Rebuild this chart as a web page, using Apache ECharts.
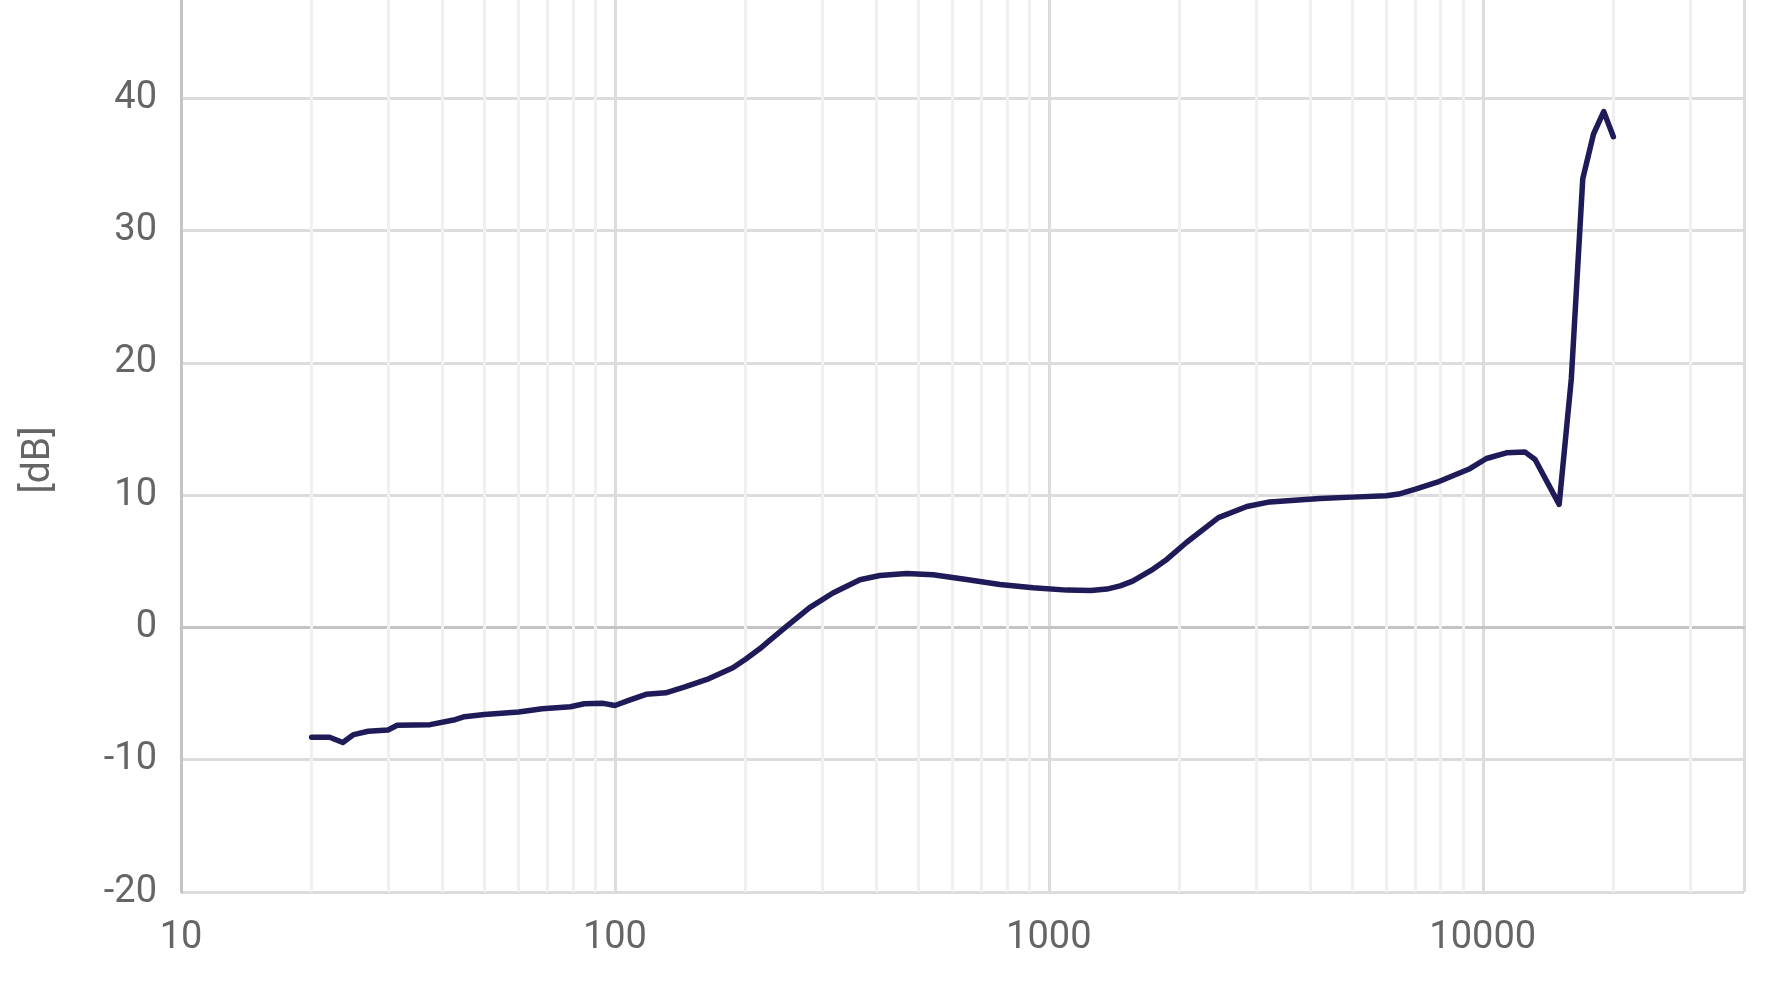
<!DOCTYPE html>
<html>
<head>
<meta charset="utf-8">
<script src="https://cdn.jsdelivr.net/npm/echarts@6/dist/echarts.min.js"></script>
<style>
  html, body { margin: 0; padding: 0; background: #ffffff; }
  #chart { width: 1767px; height: 984px; }
</style>
</head>
<body>
<div id="chart"></div>
<script>
// Frequency (Hz) and level (dB)
const freqHz = [20, 22, 23.6, 25, 27, 30, 31.5, 37.5, 42.5, 45, 50, 60, 68, 79, 85, 94, 100, 108, 118, 131, 145, 163, 187, 200, 216, 227, 249, 281, 318, 367, 408, 470, 541, 646, 771, 920, 1100, 1250, 1360, 1460, 1560, 1740, 1870, 2075, 2460, 2860, 3230, 4210, 5000, 6000, 6400, 7000, 7825, 9336, 10200, 11340, 12500, 13200, 15000, 16000, 17000, 18000, 19000, 20000];
const levelDb = [-8.3, -8.3, -8.7, -8.1, -7.85, -7.75, -7.4, -7.35, -7.0, -6.75, -6.58, -6.4, -6.15, -6.0, -5.77, -5.74, -5.9, -5.5, -5.06, -4.94, -4.5, -3.93, -3.05, -2.4, -1.6, -1.0, 0.1, 1.5, 2.6, 3.6, 3.93, 4.08, 3.98, 3.63, 3.25, 3.0, 2.82, 2.8, 2.9, 3.14, 3.5, 4.41, 5.14, 6.42, 8.3, 9.14, 9.49, 9.75, 9.85, 9.95, 10.08, 10.45, 10.96, 12.0, 12.77, 13.2, 13.27, 12.7, 9.3, 18.8, 33.9, 37.3, 39.0, 37.1];

// Axis ticks
const yTicks = { min: -20, max: 50, interval: 10 };
const xRange = { min: 10, max: 40000 };
const minorGridFreqs = [20, 30, 40, 50, 60, 70, 80, 90, 200, 300, 400, 500, 600, 700, 800, 900, 2000, 3000, 4000, 5000, 6000, 7000, 8000, 9000, 20000, 30000];

const seriesData = freqHz.map((f, i) => [f, levelDb[i]]);

const labelColor = '#656565';
const fontFamily = 'Roboto, "Noto Sans", sans-serif';

const chart = echarts.init(document.getElementById('chart'), null, { renderer: 'canvas' });
chart.setOption({
  animation: false,
  backgroundColor: '#ffffff',
  grid: { left: 181, right: 23, top: -34, bottom: 92, containLabel: false, outerBoundsMode: 'none' },
  xAxis: {
    type: 'log',
    logBase: 10,
    min: xRange.min,
    max: xRange.max,
    axisLine: { show: true, lineStyle: { color: '#c4c4c4', width: 3 } },
    axisTick: { show: false },
    axisLabel: {
      color: labelColor, fontSize: 38, fontFamily: fontFamily, margin: 27,
      showMaxLabel: false,
      formatter: v => String(v)
    },
    splitLine: { show: true, lineStyle: { color: '#dcdcdc', width: 3 } }
  },
  yAxis: {
    type: 'value',
    min: yTicks.min,
    max: yTicks.max,
    interval: yTicks.interval,
    axisLine: { show: true, lineStyle: { color: '#c4c4c4', width: 3 } },
    axisTick: { show: false },
    axisLabel: { color: labelColor, fontSize: 38, fontFamily: fontFamily, margin: 24 },
    splitLine: { show: true, lineStyle: { color: '#dcdcdc', width: 3 } }
  },
  graphic: [{
    type: 'text',
    x: 39,
    y: 460,
    rotation: Math.PI / 2,
    style: {
      text: '[dB]',
      fill: labelColor,
      fontSize: 39,
      fontFamily: fontFamily,
      align: 'center',
      verticalAlign: 'middle'
    }
  }],
  series: [{
    type: 'line',
    data: seriesData,
    showSymbol: false,
    symbol: 'none',
    z: 3,
    lineStyle: { color: '#1f1a58', width: 5.5, join: 'round', cap: 'round' },
    markLine: {
      silent: true,
      z: 1,
      symbol: ['none', 'none'],
      label: { show: false },
      lineStyle: { color: '#f0f0f0', width: 3, type: 'solid' },
      emphasis: { disabled: true },
      animation: false,
      data: minorGridFreqs.map(f => ({ xAxis: f }))
    }
  }]
});
</script>
</body>
</html>
